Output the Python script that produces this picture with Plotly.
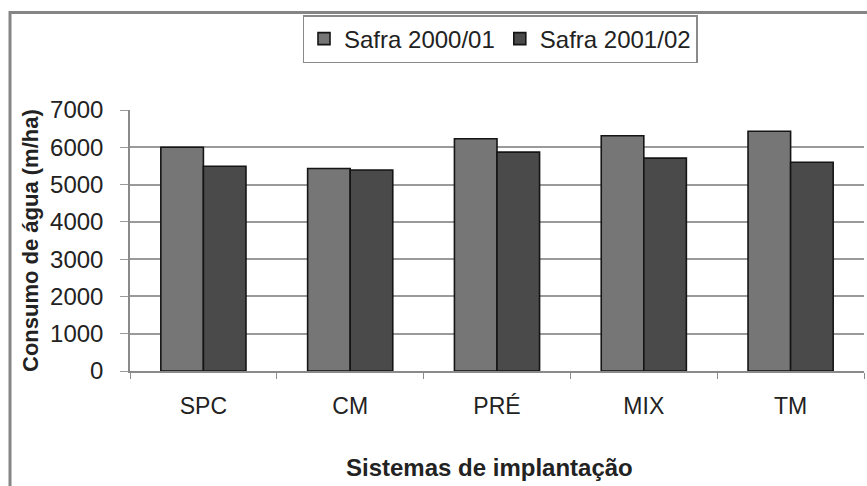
import plotly.graph_objects as go

categories = ["SPC", "CM", "PRÉ", "MIX", "TM"]
safra_2000_01 = [6000, 5430, 6230, 6310, 6430]
safra_2001_02 = [5490, 5390, 5870, 5710, 5600]
series_names = ["Safra 2000/01", "Safra 2001/02"]
y_ticks = [0, 1000, 2000, 3000, 4000, 5000, 6000, 7000]

W, H = 867, 486
ML, MR, MT, MB = 130, 3, 110, 115
pw = W - ML - MR
ph = H - MT - MB

def px_x(x):
    return (x - ML) / pw

def px_y(y):
    return (H - MB - y) / ph

fig = go.Figure()
fig.add_trace(go.Bar(x=categories, y=safra_2000_01, name=series_names[0],
                     marker=dict(color="#767676", line=dict(color="#151515", width=1.6))))
fig.add_trace(go.Bar(x=categories, y=safra_2001_02, name=series_names[1],
                     marker=dict(color="#4a4a4a", line=dict(color="#151515", width=1.6))))

font_family = "Liberation Sans, Arial, sans-serif"

fig.update_layout(
    width=W, height=H,
    margin=dict(l=ML, r=MR, t=MT, b=MB, pad=0),
    paper_bgcolor="white", plot_bgcolor="white",
    barmode="group", bargap=0.42, bargroupgap=0,
    font=dict(family=font_family, size=24, color="#222222"),
    showlegend=True,
    legend=dict(orientation="h", x=px_x(500), xanchor="center", y=px_y(15), yanchor="top",
                bordercolor="#8a8a8a", borderwidth=1.5, bgcolor="white",
                font=dict(size=24, color="#222222"), itemwidth=30,
                tracegroupgap=0),
    xaxis=dict(type="category", showgrid=False, showline=True, linecolor="#8a8a8a", linewidth=1.5,
               ticks="outside", tickson="boundaries", ticklen=6, tickcolor="#8a8a8a",
               tickfont=dict(size=23, color="#222222"), ticklabelstandoff=14,
               range=[-0.5, 4.5]),
    yaxis=dict(range=[0, 7000], tickvals=y_ticks, showgrid=True, gridcolor="#9a9a9a", gridwidth=1.5,
               showline=True, linecolor="#8a8a8a", linewidth=1.5, zeroline=False,
               ticks="outside", ticklen=8, tickcolor="#9a9a9a",
               tickfont=dict(size=24, color="#222222"), ticklabelstandoff=12),
    annotations=[
        dict(text="<b>Consumo de água (m/ha)</b>", textangle=-90, xref="paper", yref="paper",
             x=px_x(30), y=px_y(240), xanchor="center", yanchor="middle", showarrow=False,
             font=dict(size=22, color="#222222")),
        dict(text="<b>Sistemas de implantação</b>", xref="paper", yref="paper",
             x=px_x(489), y=px_y(467), xanchor="center", yanchor="middle", showarrow=False,
             font=dict(size=24, color="#222222")),
    ],
    shapes=[
        dict(type="rect", xref="paper", yref="paper", x0=px_x(10), x1=px_x(880),
             y0=px_y(520), y1=px_y(12.5), line=dict(color="#858585", width=3),
             fillcolor="rgba(0,0,0,0)", layer="below"),
    ],
)

fig.write_html("out.html",
               config={"displayModeBar": False},
               post_script="document.body.style.margin='0';document.body.style.overflow='hidden';")
